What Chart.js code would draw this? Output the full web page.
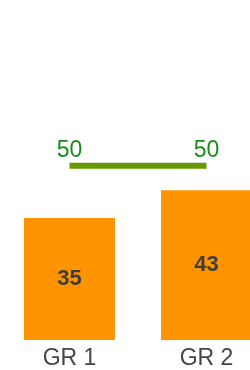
<!DOCTYPE html>
<html>
<head>
<meta charset="utf-8">
<script src="https://cdn.jsdelivr.net/npm/chart.js@4"></script>
<style>
  html, body { margin: 0; padding: 0; background: #fff; overflow: hidden; }
  #wrap { width: 276px; height: 370px; }
</style>
</head>
<body>
<div id="wrap"><canvas id="myChart" width="276" height="370"></canvas></div>
<script>
var categories = ["GR 1", "GR 2"];
var barValues = [35, 43];
var targetValues = [50, 50];

// draws the numbers on bars (centered) and above the target line ends
var valueLabels = {
  id: "valueLabels",
  afterDatasetsDraw: function (chart) {
    var ctx = chart.ctx;
    ctx.save();
    ctx.textAlign = "center";
    ctx.textBaseline = "middle";

    var barMeta = chart.getDatasetMeta(1);
    ctx.font = "bold 22px Arial, 'Liberation Sans', sans-serif";
    ctx.fillStyle = "#3d3d3d";
    barMeta.data.forEach(function (bar, i) {
      var y = (bar.y + bar.base) / 2;
      ctx.fillText(barValues[i], bar.x, y);
    });

    var lineMeta = chart.getDatasetMeta(0);
    ctx.font = "23px Arial, 'Liberation Sans', sans-serif";
    ctx.fillStyle = "#1a8c1a";
    lineMeta.data.forEach(function (pt, i) {
      ctx.fillText(targetValues[i], pt.x, pt.y - 15);
    });
    ctx.restore();
  },
};

document.addEventListener("DOMContentLoaded", function () {
  var ctx = document.getElementById("myChart").getContext("2d");
  window.myChart = new Chart(ctx, {
    data: {
      labels: categories,
      datasets: [
        {
          type: "line",
          data: targetValues,
          borderColor: "#639a00",
          borderWidth: 6,
          pointRadius: 0,
          fill: false,
          order: 0,
        },
        {
          type: "bar",
          data: barValues,
          backgroundColor: "#ff9400",
          borderWidth: 0,
          categoryPercentage: 1,
          barPercentage: 0.664,
          order: 1,
        },
      ],
    },
    options: {
      responsive: false,
      animation: false,
      layout: { padding: { top: 9, left: 1, right: 1, bottom: 0 } },
      plugins: {
        legend: { display: false },
        tooltip: { enabled: false },
      },
      scales: {
        x: {
          grid: { display: false, drawTicks: false },
          border: { display: false },
          ticks: {
            color: "#444",
            padding: 5,
            font: { size: 23, family: "Arial, 'Liberation Sans', sans-serif" },
          },
          afterFit: function (scale) {
            scale.height = 30;
          },
        },
        y: {
          display: false,
          min: 0,
          max: 95,
        },
      },
    },
    plugins: [valueLabels],
  });
});
</script>
</body>
</html>
